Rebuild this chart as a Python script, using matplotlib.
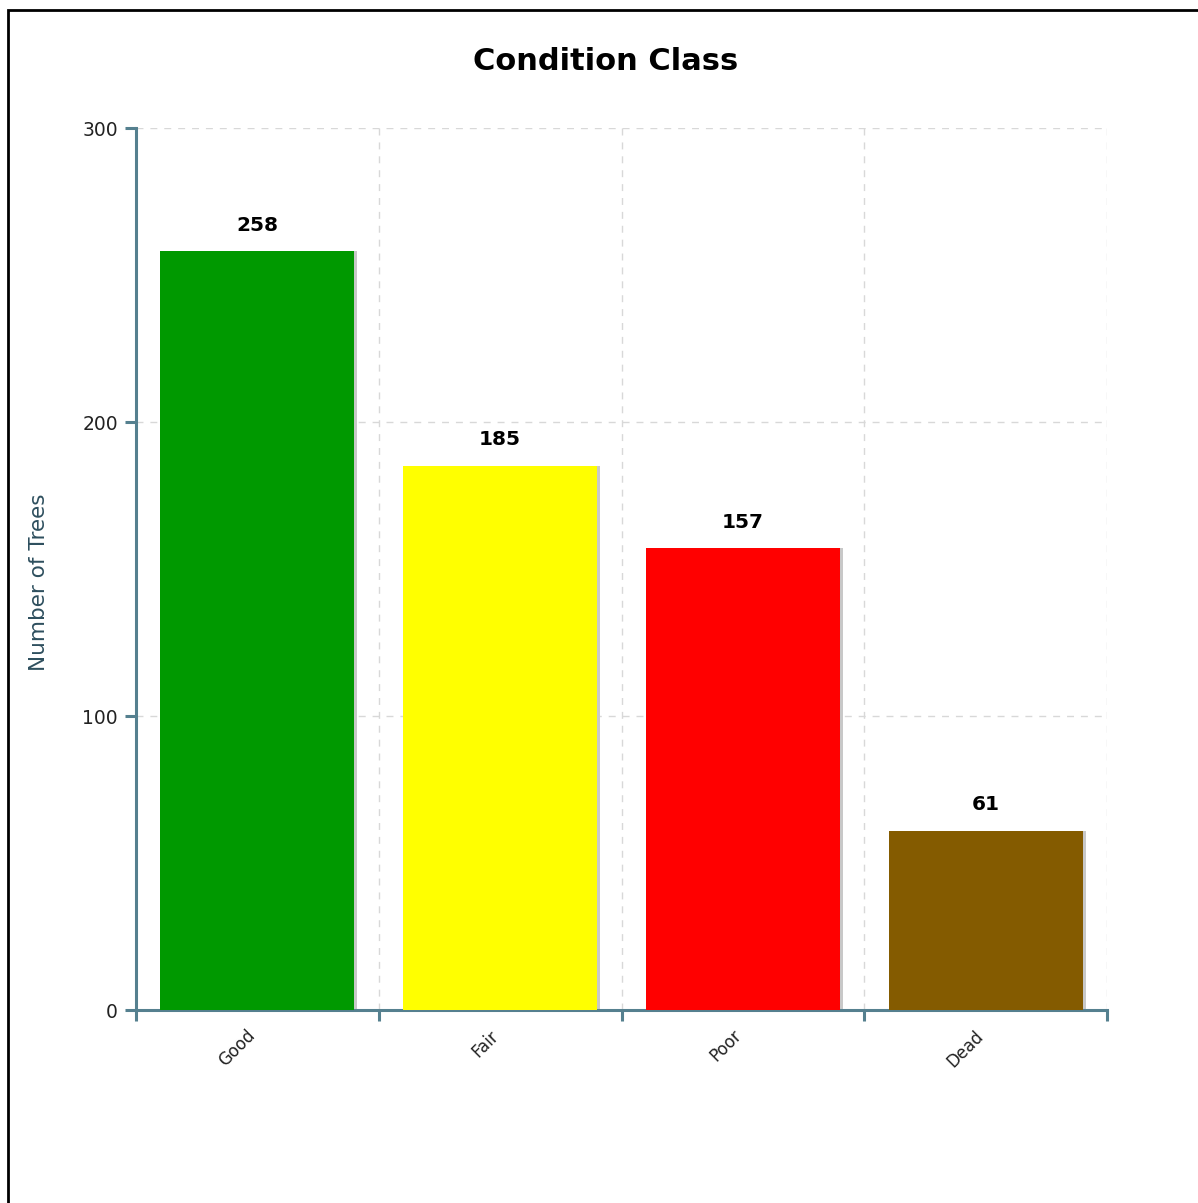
import matplotlib
matplotlib.use('Agg')
import matplotlib.pyplot as plt
from matplotlib.patches import Rectangle
import numpy as np

# data
categories = ['Good', 'Fair', 'Poor', 'Dead']
counts = [258, 185, 157, 61]
bar_colors = ['#009900', '#ffff00', '#ff0000', '#845b00']
y_ticks = [0, 100, 200, 300]

axis_col = '#55808f'

fig = plt.figure(figsize=(11.98, 12.03), dpi=100)
ax = fig.add_axes([136/1198, 1 - 1010/1203, 971/1198, 882/1203])

x = np.arange(len(categories))
# light shadow behind each bar
ax.bar(x + 0.012, counts, width=0.8, color='#c8c8c8', zorder=2)
bars = ax.bar(x, counts, width=0.8, color=bar_colors, zorder=3)

for xi, v in zip(x, counts):
    ax.annotate(str(v), (xi, v), xytext=(0, 12), textcoords='offset points',
                ha='center', va='bottom', fontsize=14.5, fontweight='bold')

ax.set_xlim(-0.5, len(categories) - 0.5)
ax.set_ylim(0, 300)
ax.set_yticks(y_ticks)

# ticks at category boundaries, labels near centres (nudged left like the original)
ax.set_xticks(np.arange(-0.5, len(categories), 1.0))
ax.set_xticklabels([])
ax.set_xticks(x - 0.045, minor=True)
ax.set_xticklabels(categories, minor=True, rotation=45, ha='right',
                   rotation_mode='anchor', fontsize=12, color='#222222')
ax.tick_params(axis='x', which='minor', length=0, pad=12)
ax.tick_params(axis='x', which='major', length=8, width=2.2, color=axis_col, direction='out')
ax.tick_params(axis='y', length=8, width=2.2, color=axis_col, direction='out',
               labelsize=13.5, labelcolor='#222222', pad=5)

ax.grid(True, which='major', color='#d8d8d8', linestyle=(0, (5, 5)), linewidth=1, zorder=0)
ax.set_axisbelow(True)

for s in ['top', 'right']:
    ax.spines[s].set_visible(False)
for s in ['left', 'bottom']:
    ax.spines[s].set_color(axis_col)
    ax.spines[s].set_linewidth(2.2)

ax.set_ylabel('Number of Trees', fontsize=15.5, color='#2e4f5e')
ax.yaxis.set_label_coords(-0.09, 0.485)

fig.text(606/1198, 1 - 61/1203, 'Condition Class', ha='center', va='center',
         fontsize=22, fontweight='bold')

# outer frame, cut by right and bottom edges
fig.patches.append(Rectangle((7.5/1198, -0.1), 1.5, 1 - 10/1203 + 0.1,
                             transform=fig.transFigure, fill=False,
                             edgecolor='black', linewidth=2))

fig.savefig('out.png', dpi=100)
